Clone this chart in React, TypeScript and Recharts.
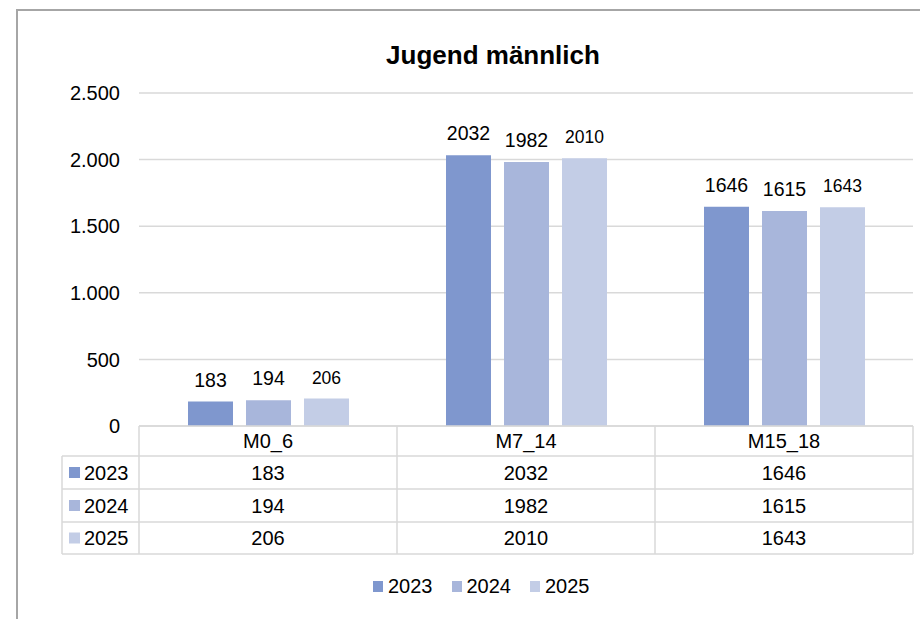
import React from "react"
import {
  BarChart,
  Bar,
  XAxis,
  YAxis,
  CartesianGrid,
  LabelList,
  Legend,
} from "recharts"

const categories = ["M0_6", "M7_14", "M15_18"]
const years = ["2023", "2024", "2025"]
const values2023 = [183, 2032, 1646]
const values2024 = [194, 1982, 1615]
const values2025 = [206, 2010, 1643]
const yTicks = [0, 500, 1000, 1500, 2000, 2500]

const colors = ["#7F97CE", "#A8B6DB", "#C3CDE6"]
const seriesValues = [values2023, values2024, values2025]

const chartData = categories.map((c, i) => ({
  name: c,
  y2023: values2023[i],
  y2024: values2024[i],
  y2025: values2025[i],
}))

const FONT = '"Liberation Sans", Arial, sans-serif'
const W = 920
const H = 619
const PLOT_LEFT = 139
const PLOT_RIGHT = 913
const BAND = (PLOT_RIGHT - PLOT_LEFT) / categories.length
const LEGEND_COL_LEFT = 62
const ROW_H = [30, 33, 33, 32]
const GRID = "#D9D9D9"

const fmt = (v: number) => v.toLocaleString("de-DE")

const TableTick = (props: any) => {
  const { x, y, payload, index } = props
  const half = BAND / 2
  const left = x - half
  const right = x + half
  const rowTops: number[] = []
  let acc = y
  for (const h of ROW_H) {
    rowTops.push(acc)
    acc += h
  }
  const bottom = acc
  const lines: React.ReactNode[] = []
  // band cells
  rowTops.slice(1).forEach((ry, k) => {
    lines.push(<line key={`h${k}`} x1={left} x2={right} y1={ry} y2={ry} stroke={GRID} strokeWidth={1.5} />)
  })
  lines.push(<line key="hb" x1={left} x2={right} y1={bottom} y2={bottom} stroke={GRID} strokeWidth={1.5} />)
  lines.push(<line key="vr" x1={right} x2={right} y1={y} y2={bottom} stroke={GRID} strokeWidth={1.5} />)
  if (index === 0) {
    lines.push(<line key="vl" x1={left} x2={left} y1={y} y2={bottom} stroke={GRID} strokeWidth={1.5} />)
    lines.push(
      <line key="vll" x1={LEGEND_COL_LEFT} x2={LEGEND_COL_LEFT} y1={rowTops[1]} y2={bottom} stroke={GRID} strokeWidth={1.5} />
    )
    rowTops.slice(1).forEach((ry, k) => {
      lines.push(<line key={`lh${k}`} x1={LEGEND_COL_LEFT} x2={left} y1={ry} y2={ry} stroke={GRID} strokeWidth={1.5} />)
    })
    lines.push(<line key="lhb" x1={LEGEND_COL_LEFT} x2={left} y1={bottom} y2={bottom} stroke={GRID} strokeWidth={1.5} />)
  }
  return (
    <g>
      {lines}
      <text x={x} y={y + ROW_H[0] / 2} dy="0.36em" textAnchor="middle" fontSize={20} fill="#000" fontFamily={FONT}>
        {payload.value}
      </text>
      {seriesValues.map((vals, s) => (
        <text
          key={s}
          x={x}
          y={rowTops[s + 1] + ROW_H[s + 1] / 2}
          dy="0.36em"
          textAnchor="middle"
          fontSize={20}
          fill="#000"
          fontFamily={FONT}
        >
          {vals[index]}
        </text>
      ))}
      {index === 0 &&
        years.map((yr, s) => {
          const cy = rowTops[s + 1] + ROW_H[s + 1] / 2
          return (
            <g key={yr}>
              <rect x={69} y={cy - 5.5} width={11} height={11} fill={colors[s]} />
              <text x={84} y={cy} dy="0.36em" fontSize={20} fill="#000" fontFamily={FONT}>
                {yr}
              </text>
            </g>
          )
        })}
    </g>
  )
}

const renderLegend = () => (
  <div style={{ display: "flex", fontFamily: FONT, fontSize: 20, color: "#000", lineHeight: "24px" }}>
    {years.map((yr, i) => (
      <div key={yr} style={{ display: "flex", alignItems: "center", marginRight: 19 }}>
        <span style={{ display: "inline-block", width: 10, height: 11, background: colors[i], marginRight: 5 }} />
        <span>{yr}</span>
      </div>
    ))}
  </div>
)

export default function App() {
  return (
    <div style={{ position: "absolute", left: 0, top: 0, width: W, height: H, background: "#fff", overflow: "hidden" }}>
      <div
        style={{
          position: "absolute",
          left: 16,
          top: 9,
          width: W,
          height: H,
          borderTop: "2px solid #A6A6A6",
          borderLeft: "2px solid #A6A6A6",
        }}
      />
      <div
        style={{
          position: "absolute",
          left: 0,
          width: 986,
          top: 40,
          textAlign: "center",
          fontFamily: FONT,
          fontWeight: "bold",
          fontSize: 26,
          lineHeight: "30px",
          color: "#000",
        }}
      >
        Jugend männlich
      </div>
      <div style={{ position: "absolute", left: 0, top: 0 }}>
        <BarChart
          width={W}
          height={H}
          data={chartData}
          margin={{ top: 93, right: W - PLOT_RIGHT, bottom: 0, left: 0 }}
          barSize={45}
          barGap={13}
        >
          <CartesianGrid vertical={false} stroke={GRID} strokeWidth={1.5} />
          <YAxis
            width={PLOT_LEFT}
            domain={[0, 2500]}
            ticks={yTicks}
            axisLine={false}
            tickLine={false}
            tickSize={0}
            tickMargin={19}
            tickFormatter={fmt}
            tick={{ fontSize: 20, fill: "#000", fontFamily: FONT }}
          />
          <XAxis
            dataKey="name"
            height={H - 426}
            interval={0}
            tickLine={false}
            tickSize={0}
            tickMargin={0}
            axisLine={{ stroke: GRID, strokeWidth: 1.5 }}
            tick={<TableTick />}
          />
          <Legend
            verticalAlign="middle"
            align="center"
            layout="horizontal"
            wrapperStyle={{ top: 574, left: 373, width: "auto" }}
            content={renderLegend}
          />
          <Bar dataKey="y2023" name="2023" fill={colors[0]} isAnimationActive={false}>
            <LabelList dataKey="y2023" position="top" offset={15} fontSize={19.5} fill="#000" fontFamily={FONT} />
          </Bar>
          <Bar dataKey="y2024" name="2024" fill={colors[1]} isAnimationActive={false}>
            <LabelList dataKey="y2024" position="top" offset={15} fontSize={19.5} fill="#000" fontFamily={FONT} />
          </Bar>
          <Bar dataKey="y2025" name="2025" fill={colors[2]} isAnimationActive={false}>
            <LabelList dataKey="y2025" position="top" offset={15} fontSize={17.5} fill="#000" fontFamily={FONT} />
          </Bar>
        </BarChart>
      </div>
    </div>
  )
}
